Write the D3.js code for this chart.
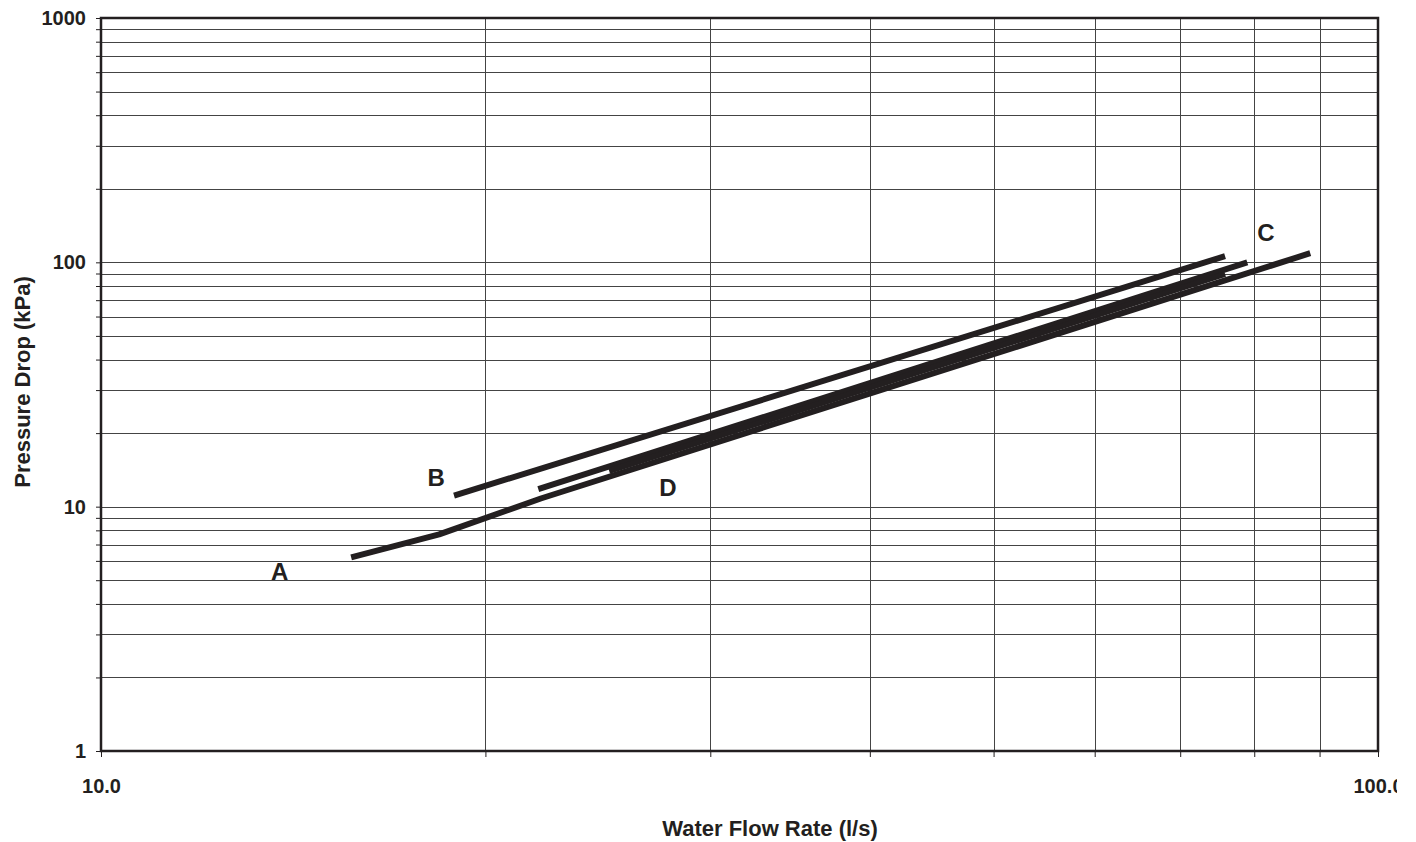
<!DOCTYPE html>
<html lang="en">
<head>
<meta charset="UTF-8">
<title>Pressure drop</title>
<script src="https://d3js.org/d3.v7.min.js"></script>
<style>
	body { margin: 0; background: #fff; }
	svg { display: block; }
	text { font-family: "Liberation Sans", Arial, sans-serif; font-weight: bold; fill: #231f20; }
</style>
</head>
<body>
<svg id="chart" width="1397" height="842"></svg>
<script>
	// axis values
	const flowTicks = [10, 20, 30, 40, 50, 60, 70, 80, 90, 100];
	const flowLabels = [10, 100];
	const pressureLabels = [1, 10, 100, 1000];
	const pressureGrid = [1, 2, 3, 4, 5, 6, 7, 8, 9,
		10, 20, 30, 40, 50, 60, 70, 80, 90,
		100, 200, 300, 400, 500, 600, 700, 800, 900, 1000];

	// curves: [flow l/s, pressure kPa]
	const curveA = [[15.7, 6.2], [18.4, 7.7], [22.1, 10.8], [88.5, 109]];
	const curveB = [[18.9, 11.1], [75.9, 106]];
	const curveC = [[22.0, 11.8], [79.0, 100]];
	const curveD = [[25.0, 14.0], [75.9, 89.6]];
	const curveNames = ["A", "B", "C", "D"];
	// where each letter sits, in data units
	const labelFlow = [13.8, 18.3, 81.7, 27.8];
	const labelPressure = [5.45, 13.2, 133, 12.0];

	const svg = d3.select("#chart");
	const plotL = 101, plotR = 1378, plotT = 18, plotB = 751;
	const ink = "#231f20";

	const x = d3.scaleLog().domain([10, 100]).range([plotL, plotR]);
	const y = d3.scaleLog().domain([1, 1000]).range([plotB, plotT]);

	// grid
	svg.append("g").selectAll("line")
		.data(pressureGrid)
		.enter().append("line")
		.attr("x1", plotL).attr("x2", plotR)
		.attr("y1", d => Math.round(y(d)) + 0.5)
		.attr("y2", d => Math.round(y(d)) + 0.5)
		.attr("stroke", "#444")
		.attr("stroke-width", 1);

	svg.append("g").selectAll("line")
		.data(flowTicks.slice(1, -1))
		.enter().append("line")
		.attr("y1", plotT).attr("y2", plotB)
		.attr("x1", d => Math.round(x(d)) + 0.5)
		.attr("x2", d => Math.round(x(d)) + 0.5)
		.attr("stroke", "#444")
		.attr("stroke-width", 1);

	// axes
	const yAxis = d3.axisLeft(y)
		.tickValues(pressureGrid)
		.tickSize(5)
		.tickPadding(10)
		.tickFormat(d => pressureLabels.includes(d) ? d : "");

	const gy = svg.append("g")
		.attr("transform", "translate(" + plotL + ",0)")
		.call(yAxis);
	gy.select(".domain").remove();
	gy.selectAll(".tick line").attr("stroke", ink);
	gy.selectAll(".tick text").style("font-size", "20px").attr("fill", ink);

	const xAxis = d3.axisBottom(x)
		.tickValues(flowTicks)
		.tickSize(6)
		.tickPadding(22)
		.tickFormat(d => flowLabels.includes(d) ? d3.format(".1f")(d) : "");

	const gx = svg.append("g")
		.attr("transform", "translate(0," + plotB + ")")
		.call(xAxis);
	gx.select(".domain").remove();
	gx.selectAll(".tick line").attr("stroke", ink);
	gx.selectAll(".tick text").style("font-size", "20px").attr("fill", ink);

	// frame
	svg.append("rect")
		.attr("x", plotL).attr("y", plotT)
		.attr("width", plotR - plotL).attr("height", plotB - plotT)
		.attr("fill", "none")
		.attr("stroke", ink)
		.attr("stroke-width", 2.5);

	// curves
	const line = d3.line()
		.x(d => x(d[0]))
		.y(d => y(d[1]));

	svg.append("g").selectAll("path")
		.data([curveA, curveB, curveC, curveD])
		.enter().append("path")
		.attr("d", line)
		.attr("fill", "none")
		.attr("stroke", ink)
		.attr("stroke-width", 6)
		.attr("stroke-linecap", "butt")
		.attr("stroke-linejoin", "round");

	svg.append("g").selectAll("text")
		.data(curveNames)
		.enter().append("text")
		.attr("x", (d, i) => x(labelFlow[i]))
		.attr("y", (d, i) => y(labelPressure[i]))
		.attr("text-anchor", "middle")
		.attr("dy", "0.36em")
		.style("font-size", "24px")
		.text(d => d);

	// titles
	svg.append("text")
		.attr("x", 770)
		.attr("y", 828)
		.attr("text-anchor", "middle")
		.attr("dy", "0.36em")
		.style("font-size", "22px")
		.text("Water Flow Rate (l/s)");

	svg.append("text")
		.attr("transform", "translate(22,382) rotate(-90)")
		.attr("text-anchor", "middle")
		.attr("dy", "0.36em")
		.style("font-size", "22px")
		.text("Pressure Drop (kPa)");
</script>
</body>
</html>
